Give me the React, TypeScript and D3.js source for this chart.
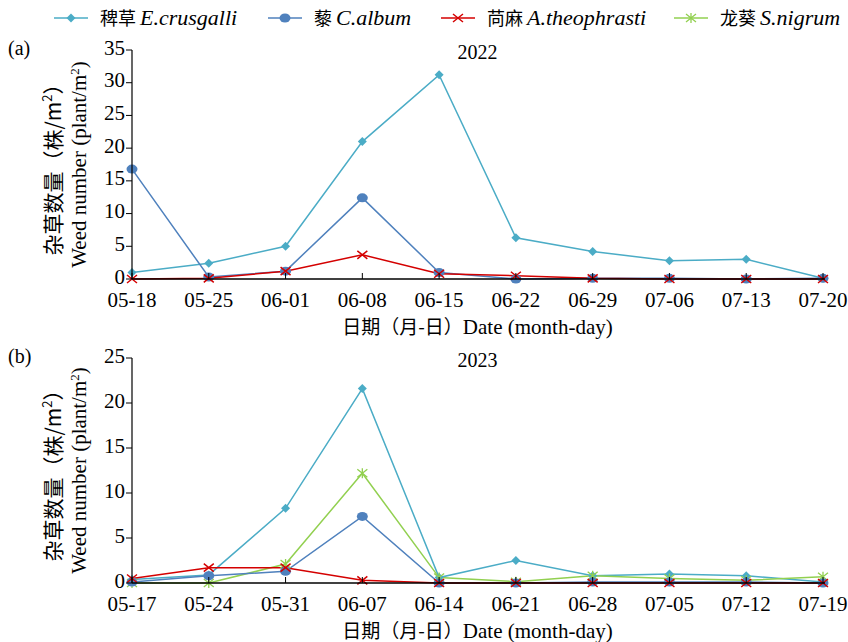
import React, { useEffect, useRef } from 'react';
import * as d3 from 'd3';

// 2022 survey dates and densities (plant/m2)
const dates2022 = ['05-18', '05-25', '06-01', '06-08', '06-15', '06-22', '06-29', '07-06', '07-13', '07-20'];
const crus2022 = [1.0, 2.4, 5.0, 21.0, 31.2, 6.3, 4.2, 2.8, 3.0, 0.1];
const album2022 = [16.8, 0.3, 1.2, 12.4, 1.0, 0.0, 0.1, 0.1, 0.0, 0.1];
const theo2022 = [0.0, 0.1, 1.2, 3.7, 0.8, 0.5, 0.1, 0.0, 0.0, 0.0];

// 2023
const dates2023 = ['05-17', '05-24', '05-31', '06-07', '06-14', '06-21', '06-28', '07-05', '07-12', '07-19'];
const crus2023 = [0.4, 0.9, 8.3, 21.6, 0.6, 2.5, 0.8, 1.0, 0.8, 0.1];
const album2023 = [0.1, 0.8, 1.3, 7.4, 0.0, 0.0, 0.1, 0.1, 0.1, 0.0];
const theo2023 = [0.5, 1.7, 1.7, 0.3, 0.0, 0.0, 0.0, 0.0, 0.0, 0.0];
const nigrum2023 = [0.0, 0.0, 2.1, 12.2, 0.6, 0.15, 0.8, 0.5, 0.3, 0.7];

const speciesCn = ['稗草', '藜', '苘麻', '龙葵'];
const speciesLatin = ['E.crusgalli', 'C.album', 'A.theophrasti', 'S.nigrum'];
const speciesColor = ['#4bacc6', '#4f81bd', '#d40000', '#92d050'];
const speciesMarker = ['diamond', 'circle', 'cross', 'star'];

const yTicks2022 = [0, 5, 10, 15, 20, 25, 30, 35];
const yTicks2023 = [0, 5, 10, 15, 20, 25];

const SERIF = '"Liberation Serif", "Times New Roman", serif';
const CJK = '"Noto Sans CJK SC", sans-serif';

const drawMarker = (g, kind, color, x, y) => {
  if (kind === 'diamond') {
    g.append('path')
      .attr('d', `M${x},${y - 4.5}L${x + 4.5},${y}L${x},${y + 4.5}L${x - 4.5},${y}Z`)
      .attr('fill', color);
  } else if (kind === 'circle') {
    g.append('ellipse').attr('cx', x).attr('cy', y).attr('rx', 5.5).attr('ry', 4.5).attr('fill', color);
  } else if (kind === 'cross') {
    g.append('path')
      .attr('d', `M${x - 5},${y - 4}L${x + 5},${y + 4}M${x - 5},${y + 4}L${x + 5},${y - 4}`)
      .attr('stroke', color)
      .attr('stroke-width', 1.5);
  } else {
    g.append('path')
      .attr('d', `M${x - 5},${y - 4}L${x + 5},${y + 4}M${x - 5},${y + 4}L${x + 5},${y - 4}M${x},${y - 5}L${x},${y + 5}`)
      .attr('stroke', color)
      .attr('stroke-width', 1.3);
  }
};

const drawPanel = (svg, opt) => {
  const { dates, series, yMax, yTicks, top, bottom, left, right, title, tag } = opt;
  const x = d3.scalePoint().domain(dates).range([left, right]);
  const y = d3.scaleLinear().domain([0, yMax]).range([bottom, top]);
  const g = svg.append('g');

  // series lines then markers
  series.forEach(s => {
    const line = d3
      .line()
      .x((d, i) => x(dates[i]))
      .y(d => y(d));
    g.append('path')
      .attr('d', line(s.values))
      .attr('fill', 'none')
      .attr('stroke', speciesColor[s.idx])
      .attr('stroke-width', 1.5);
  });
  series.forEach(s => {
    s.values.forEach((v, i) => drawMarker(g, speciesMarker[s.idx], speciesColor[s.idx], x(dates[i]), y(v)));
  });

  // axes
  g.append('line').attr('x1', left).attr('x2', left).attr('y1', top).attr('y2', bottom).attr('stroke', '#000').attr('stroke-width', 1.2);
  g.append('line').attr('x1', left).attr('x2', right + 2).attr('y1', bottom).attr('y2', bottom).attr('stroke', '#000').attr('stroke-width', 1.5);

  yTicks.forEach(t => {
    g.append('line').attr('x1', left - 6).attr('x2', left).attr('y1', y(t)).attr('y2', y(t)).attr('stroke', '#000');
    g.append('text')
      .attr('x', left - 7)
      .attr('y', y(t) + 4.5)
      .attr('text-anchor', 'end')
      .style('font', `21px ${SERIF}`)
      .text(t);
  });
  dates.forEach(d => {
    g.append('line').attr('x1', x(d)).attr('x2', x(d)).attr('y1', bottom - 6).attr('y2', bottom).attr('stroke', '#000');
    g.append('text')
      .attr('x', x(d))
      .attr('y', bottom + 28)
      .attr('text-anchor', 'middle')
      .style('font', `21px ${SERIF}`)
      .text(d);
  });

  const cx = (left + right) / 2;
  g.append('text').attr('x', cx).attr('y', top + 9).attr('text-anchor', 'middle').style('font', `20px ${SERIF}`).text(title);
  g.append('text').attr('x', 8).attr('y', top + 5).style('font', `20px ${SERIF}`).text(tag);

  const xt = g.append('text').attr('x', cx).attr('y', bottom + 55).attr('text-anchor', 'middle').style('font', `21px ${SERIF}`);
  xt.append('tspan').style('font-family', CJK).style('font-size', '19px').text('日期（月-日）');
  xt.append('tspan').text('Date (month-day)');

  const cy = (top + bottom) / 2;
  const t1 = g.append('text').attr('transform', `translate(61,${cy}) rotate(-90)`).attr('text-anchor', 'middle').style('font', `21px ${CJK}`);
  t1.append('tspan').text('杂草数量（株/m');
  t1.append('tspan').attr('baseline-shift', 'super').style('font-size', '13px').text('2');
  t1.append('tspan').text('）');
  const t2 = g.append('text').attr('transform', `translate(86,${cy}) rotate(-90)`).attr('text-anchor', 'middle').style('font', `21px ${SERIF}`);
  t2.append('tspan').text('Weed number (plant/m');
  t2.append('tspan').attr('baseline-shift', 'super').style('font-size', '13px').text('2');
  t2.append('tspan').text(')');
};

const drawChart = node => {
  const svg = d3.select(node);
  svg.selectAll('*').remove();

  // legend
  const legendX = [54, 268, 441, 674];
  const legend = svg.append('g');
  speciesCn.forEach((cn, i) => {
    const lx = legendX[i];
    legend.append('line').attr('x1', lx).attr('x2', lx + 34).attr('y1', 18).attr('y2', 18).attr('stroke', speciesColor[i]).attr('stroke-width', 1.5);
    drawMarker(legend, speciesMarker[i], speciesColor[i], lx + 17, 18);
    const t = legend.append('text').attr('x', lx + 46).attr('y', 25).style('font', `22px ${SERIF}`);
    t.append('tspan').style('font-family', CJK).style('font-size', '18px').text(cn + ' ');
    t.append('tspan').style('font-style', 'italic').text(speciesLatin[i]);
  });

  drawPanel(svg, {
    dates: dates2022,
    series: [
      { idx: 0, values: crus2022 },
      { idx: 1, values: album2022 },
      { idx: 2, values: theo2022 },
    ],
    yMax: 35,
    yTicks: yTicks2022,
    top: 50,
    bottom: 279,
    left: 132,
    right: 823,
    title: '2022',
    tag: '(a)',
  });

  drawPanel(svg, {
    dates: dates2023,
    series: [
      { idx: 0, values: crus2023 },
      { idx: 3, values: nigrum2023 },
      { idx: 1, values: album2023 },
      { idx: 2, values: theo2023 },
    ],
    yMax: 25,
    yTicks: yTicks2023,
    top: 358,
    bottom: 583,
    left: 132,
    right: 823,
    title: '2023',
    tag: '(b)',
  });
};

export default function App() {
  const ref = useRef(null);
  useEffect(() => {
    document.body.style.margin = '0';
    drawChart(ref.current);
  }, []);
  return <svg ref={ref} width={848} height={642} style={{ display: 'block', background: '#fff' }} />;
}
